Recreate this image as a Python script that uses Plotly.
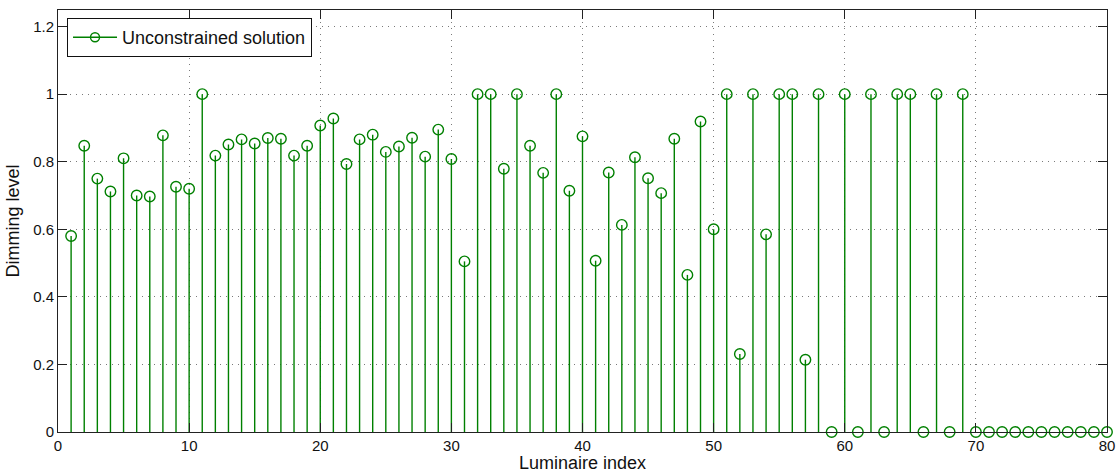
import plotly.graph_objects as go

# Luminaire indices and their unconstrained dimming levels
luminaire_index = list(range(1, 81))
dimming_level = [
    0.580, 0.847, 0.750, 0.712, 0.810, 0.700, 0.697, 0.878, 0.726, 0.720,
    1.000, 0.818, 0.851, 0.866, 0.854, 0.870, 0.868, 0.818, 0.847, 0.907,
    0.928, 0.793, 0.866, 0.880, 0.829, 0.845, 0.871, 0.815, 0.895, 0.808,
    0.505, 1.000, 1.000, 0.779, 1.000, 0.847, 0.767, 1.000, 0.714, 0.875,
    0.507, 0.768, 0.613, 0.813, 0.751, 0.707, 0.868, 0.465, 0.919, 0.600,
    1.000, 0.231, 1.000, 0.585, 1.000, 1.000, 0.214, 1.000, 0.000, 1.000,
    0.000, 1.000, 0.000, 1.000, 1.000, 0.000, 1.000, 0.000, 1.000, 0.000,
    0.000, 0.000, 0.000, 0.000, 0.000, 0.000, 0.000, 0.000, 0.000, 0.000,
]
series_name = "Unconstrained solution"

x_ticks = list(range(0, 81, 10))
y_ticks = [0, 0.2, 0.4, 0.6, 0.8, 1.0, 1.2]

GREEN = "#008000"
FONT = "Liberation Sans, Arial, Helvetica, sans-serif"

# Build stem segments (baseline -> value) from the data
stem_x, stem_y = [], []
for xi, yi in zip(luminaire_index, dimming_level):
    stem_x += [xi, xi, None]
    stem_y += [0, yi, None]

fig = go.Figure()
fig.add_trace(go.Scatter(
    x=stem_x, y=stem_y, mode="lines",
    line=dict(color=GREEN, width=1.4),
    showlegend=False, hoverinfo="skip",
))
fig.add_trace(go.Scatter(
    x=luminaire_index, y=dimming_level, mode="markers",
    marker=dict(symbol="circle-open", size=10.5, color=GREEN,
                line=dict(width=1.4, color=GREEN)),
    showlegend=False, cliponaxis=False,
))
# Legend entry: line with open circle, like a stem plot
fig.add_trace(go.Scatter(
    x=[None], y=[None], mode="lines+markers", name=series_name,
    line=dict(color=GREEN, width=1.4),
    marker=dict(symbol="circle-open", size=9, color=GREEN,
                line=dict(width=1.4, color=GREEN)),
))

axis_common = dict(
    showline=True, linecolor="#222222", linewidth=1, mirror="allticks",
    ticks="inside", ticklen=9, tickcolor="#222222", tickwidth=1,
    showgrid=True, gridcolor="#7a7a7a", griddash="1px,5px", gridwidth=1,
    zeroline=False, automargin=False,
    tickfont=dict(family=FONT, size=15, color="#111111"),
)

fig.update_xaxes(
    range=[0, 80], tickvals=x_ticks,
    title=dict(text="Luminaire index", standoff=1,
               font=dict(family=FONT, size=18, color="#111111")),
    **axis_common,
)
fig.update_yaxes(
    range=[0, 1.249], tickvals=y_ticks,
    title=dict(text="Dimming level", standoff=8,
               font=dict(family=FONT, size=18, color="#111111")),
    **axis_common,
)

fig.update_layout(
    width=1118, height=473,
    margin=dict(l=58, r=11, t=10, b=41),
    paper_bgcolor="white", plot_bgcolor="white",
    legend=dict(
        x=0.0086, y=0.981, xanchor="left", yanchor="top",
        bgcolor="white", bordercolor="#111111", borderwidth=1,
        font=dict(family=FONT, size=18, color="#111111"),
        itemwidth=44, tracegroupgap=0,
    ),
)

fig.write_html("out.html")
